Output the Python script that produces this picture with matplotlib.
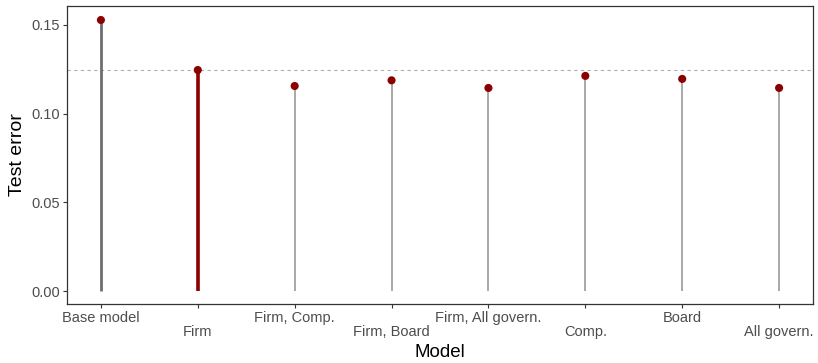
import matplotlib.pyplot as plt
import numpy as np

plt.rcParams["font.family"] = ["Liberation Sans", "DejaVu Sans"]

models = ["Base model", "Firm", "Firm, Comp.", "Firm, Board",
          "Firm, All govern.", "Comp.", "Board", "All govern."]
test_error = [0.1528, 0.1246, 0.1156, 0.1188, 0.1145, 0.1213, 0.1196, 0.1145]
reference_error = 0.1246

x = np.arange(len(models))

fig = plt.figure(figsize=(8.18, 3.63), dpi=100)
ax = fig.add_axes([67 / 818, 1 - 304 / 363, (813 - 67) / 818, (304 - 6) / 363])

ax.axhline(reference_error, color="#b0b0b0", lw=0.8, ls=(0, (3, 3)), zorder=1)

for i, v in enumerate(test_error):
    if i == 0:
        c, w = "#6e6e6e", 2.0
    elif i == 1:
        c, w = "#8b0000", 2.6
    else:
        c, w = "#a8a8a8", 1.4
    ax.vlines(x[i], 0, v, color=c, lw=w, zorder=2)

ax.scatter(x, test_error, s=34, color="#8b0000", zorder=3, edgecolors="none")

ax.set_xlim(-0.35, len(models) - 1 + 0.35)
ax.set_ylim(-0.0073, 0.1607)
ax.set_yticks([0.0, 0.05, 0.10, 0.15])
ax.set_yticklabels(["0.00", "0.05", "0.10", "0.15"])
ax.set_xticks(x)
ax.set_xticklabels(["\n" + m if i % 2 else m for i, m in enumerate(models)],
                   linespacing=1.05)

ax.tick_params(axis="both", colors="#333333", labelcolor="#4d4d4d",
               labelsize=10.5, length=3, width=0.8, pad=2)
for s in ax.spines.values():
    s.set_color("#333333")
    s.set_linewidth(0.9)

ax.set_ylabel("Test error", fontsize=14, labelpad=4)
ax.set_xlabel("Model", fontsize=13.5, labelpad=3)

fig.savefig("out.png", dpi=100)
